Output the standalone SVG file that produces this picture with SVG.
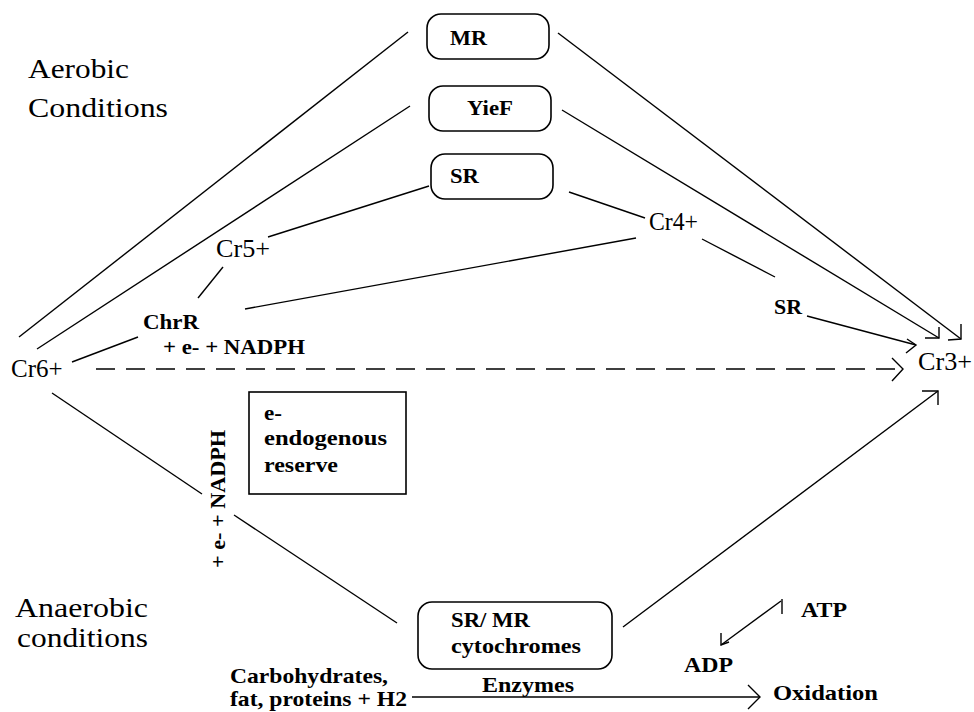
<svg xmlns="http://www.w3.org/2000/svg" width="974" height="712" viewBox="0 0 974 712">
<style>
text{font-family:"Liberation Serif","Times New Roman",serif;fill:#000}
.b{font-weight:bold;font-size:21px}
.cr{font-size:25px}
.t{font-size:27px}
.ln{stroke:#000;stroke-width:1.4;fill:none}
.dash{stroke-dasharray:19 11}
.box{stroke:#000;stroke-width:1.6;fill:#fff}
</style>
<rect width="974" height="712" fill="#fff"/>
<g id="connectors">
<line class="ln" x1="408" y1="32" x2="19" y2="337"/>
<line class="ln" x1="558" y1="33" x2="961" y2="339"/>
<polyline class="ln" points="948,340 961,339 961,324"/>
<line class="ln" x1="410" y1="106" x2="37" y2="349"/>
<line class="ln" x1="562" y1="110" x2="939" y2="338"/>
<polyline class="ln" points="925,338 939,338 939,327"/>
<line class="ln" x1="429" y1="186" x2="268" y2="237"/>
<line class="ln" x1="569" y1="192" x2="645" y2="218"/>
<line class="ln" x1="223" y1="267" x2="198" y2="298"/>
<line class="ln" x1="245" y1="309" x2="636" y2="238"/>
<line class="ln" x1="138" y1="337" x2="72" y2="362"/>
<line class="ln" x1="702" y1="239" x2="775" y2="277"/>
<line class="ln" x1="807" y1="316" x2="916" y2="345"/>
<polyline class="ln" points="906,353 916,345 907,339"/>
<line class="ln dash" x1="96" y1="369" x2="902" y2="369"/>
<polyline class="ln" points="892,358 903,369 892,381"/>
<line class="ln" x1="52" y1="393" x2="202" y2="494"/>
<line class="ln" x1="234" y1="515" x2="397" y2="623"/>
<line class="ln" x1="623" y1="627" x2="938" y2="391"/>
<polyline class="ln" points="922,391 938,391 938,405"/>
<line class="ln" x1="412" y1="697" x2="760" y2="697"/>
<polyline class="ln" points="748,685 760,697 748,709"/>
<line class="ln" x1="781" y1="601" x2="721" y2="645"/>
<line class="ln" x1="782" y1="599" x2="782" y2="614"/>
<polyline class="ln" points="721,633 721,645 729,642"/>
</g>
<g id="aerobic-label">
<text class="t" x="28" y="78" textLength="101" lengthAdjust="spacingAndGlyphs">Aerobic</text>
<text class="t" x="28" y="117" textLength="140" lengthAdjust="spacingAndGlyphs">Conditions</text>
</g>
<g id="anaerobic-label">
<text class="t" x="15" y="617" textLength="133" lengthAdjust="spacingAndGlyphs">Anaerobic</text>
<text class="t" x="17" y="647" textLength="131" lengthAdjust="spacingAndGlyphs">conditions</text>
</g>
<g id="MR">
<rect class="box" x="427" y="14" width="122" height="45" rx="14"/>
<text class="b" x="450" y="45" textLength="37" lengthAdjust="spacingAndGlyphs">MR</text>
</g>
<g id="YieF">
<rect class="box" x="429" y="86" width="122" height="45" rx="14"/>
<text class="b" x="467" y="115" textLength="46" lengthAdjust="spacingAndGlyphs">YieF</text>
</g>
<g id="SR-top">
<rect class="box" x="431" y="154" width="122" height="45" rx="14"/>
<text class="b" x="450" y="183" textLength="29" lengthAdjust="spacingAndGlyphs">SR</text>
</g>
<g id="Cr6">
<text class="cr" x="11" y="377">Cr6+</text>
</g>
<g id="Cr5">
<text class="cr" x="216" y="257" textLength="54" lengthAdjust="spacingAndGlyphs">Cr5+</text>
</g>
<g id="Cr4">
<text class="cr" x="649" y="230" textLength="49" lengthAdjust="spacingAndGlyphs">Cr4+</text>
</g>
<g id="Cr3">
<text class="cr" x="918" y="370" textLength="54" lengthAdjust="spacingAndGlyphs">Cr3+</text>
</g>
<g id="ChrR">
<text class="b" x="143" y="329" textLength="56" lengthAdjust="spacingAndGlyphs">ChrR</text>
<text class="b" x="163" y="354" textLength="142" lengthAdjust="spacingAndGlyphs">+ e- + NADPH</text>
</g>
<g id="SR-right">
<text class="b" x="774" y="314" textLength="28" lengthAdjust="spacingAndGlyphs">SR</text>
</g>
<g id="NADPH-vertical">
<text class="b" transform="translate(225,568) rotate(-90)" x="0" y="0" textLength="138" lengthAdjust="spacingAndGlyphs">+ e- + NADPH</text>
</g>
<g id="reserve">
<rect x="249" y="392" width="157" height="102" fill="#fff" stroke="#000" stroke-width="1.6"/>
<text class="b" x="264" y="420" textLength="18" lengthAdjust="spacingAndGlyphs">e-</text>
<text class="b" x="264" y="445" textLength="123" lengthAdjust="spacingAndGlyphs">endogenous</text>
<text class="b" x="264" y="472" textLength="74" lengthAdjust="spacingAndGlyphs">reserve</text>
</g>
<g id="cytochromes">
<rect class="box" x="418" y="602" width="194" height="67" rx="14"/>
<text class="b" x="451" y="627" textLength="79" lengthAdjust="spacingAndGlyphs">SR/ MR</text>
<text class="b" x="451" y="653" textLength="130" lengthAdjust="spacingAndGlyphs">cytochromes</text>
</g>
<g id="substrates">
<text class="b" x="230" y="683" textLength="158" lengthAdjust="spacingAndGlyphs">Carbohydrates,</text>
<text class="b" x="230" y="706" textLength="177" lengthAdjust="spacingAndGlyphs">fat, proteins + H2</text>
</g>
<g id="enzymes">
<text class="b" x="482" y="692" textLength="92" lengthAdjust="spacingAndGlyphs">Enzymes</text>
</g>
<g id="oxidation">
<text class="b" x="773" y="700" textLength="105" lengthAdjust="spacingAndGlyphs">Oxidation</text>
</g>
<g id="ATP">
<text class="b" x="801" y="617" textLength="46" lengthAdjust="spacingAndGlyphs">ATP</text>
</g>
<g id="ADP">
<text class="b" x="684" y="672" textLength="49" lengthAdjust="spacingAndGlyphs">ADP</text>
</g>
</svg>
